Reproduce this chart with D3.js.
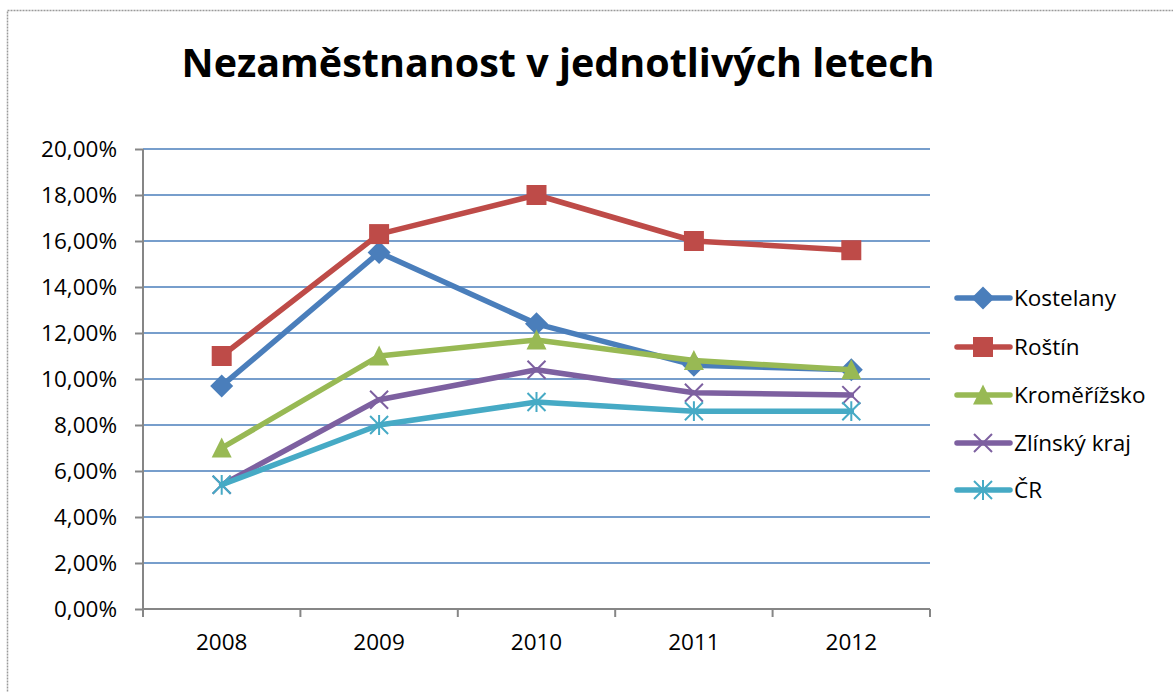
<!DOCTYPE html>
<html>
<head>
<meta charset="utf-8">
<script src="https://cdn.jsdelivr.net/npm/d3@7"></script>
<style>
  html, body { margin: 0; padding: 0; background: #fff; }
  svg { display: block; }
  text { font-family: "Open Sans", "Noto Sans", sans-serif; fill: #000; }
</style>
</head>
<body>
<svg id="chart" width="1173" height="692"></svg>
<script>
const title = "Nezaměstnanost v jednotlivých letech";
const years = ["2008", "2009", "2010", "2011", "2012"];
const seriesNames = ["Kostelany", "Roštín", "Kroměřížsko", "Zlínský kraj", "ČR"];
const kostelany = [9.7, 15.5, 12.4, 10.6, 10.4];
const rostin = [11.0, 16.3, 18.0, 16.0, 15.6];
const kromerizsko = [7.0, 11.0, 11.7, 10.8, 10.4];
const zlinskyKraj = [5.4, 9.1, 10.4, 9.4, 9.3];
const cr = [5.4, 8.0, 9.0, 8.6, 8.6];
const yTicks = [0, 2, 4, 6, 8, 10, 12, 14, 16, 18, 20];
const colors = ["#4A7EBB", "#BE4B48", "#98B954", "#7D60A0", "#46AAC5"];
const markers = ["diamond", "square", "triangle", "x", "star"];

(function () {
const series = seriesNames.map((n, i) => ({
  name: n, values: [kostelany, rostin, kromerizsko, zlinskyKraj, cr][i],
  color: colors[i], marker: markers[i]
}));

const svg = d3.select("#chart");
const pL = 143, pR = 930, pT = 149, pB = 609;
const fs = 22.5;

// outer frame
svg.append("rect").attr("x", 7.5).attr("y", 10.5).attr("width", 1200).attr("height", 720)
  .attr("fill", "none").attr("stroke", "#9a9a9a").attr("stroke-width", 1.5)
  .attr("stroke-dasharray", "2,1");

const x = d3.scaleBand().domain(years).range([pL, pR]);
const y = d3.scaleLinear().domain([0, 20]).range([pB, pT]);

// gridlines
svg.append("g").selectAll("line").data(yTicks.filter(d => d > 0)).join("line")
  .attr("x1", pL).attr("x2", pR)
  .attr("y1", d => y(d)).attr("y2", d => y(d))
  .attr("stroke", "#4A7EBB").attr("stroke-width", 1.5);

// y axis
const yAxis = d3.axisLeft(y).tickValues(yTicks).tickSize(8).tickPadding(18)
  .tickFormat(d => d3.format(".2f")(d).replace(".", ",") + "%");
const gy = svg.append("g").attr("transform", `translate(${pL},0)`).call(yAxis);
gy.select(".domain").attr("stroke", "#868686").attr("stroke-width", 2).attr("d", `M0,${pT}V${pB}`);
gy.selectAll(".tick line").attr("stroke", "#868686").attr("stroke-width", 2);
gy.selectAll(".tick text").attr("font-size", fs).attr("font-family", "Open Sans").attr("fill", "#000");

// x axis
const xAxis = d3.axisBottom(x).tickSize(0).tickPadding(0);
const gx = svg.append("g").attr("transform", `translate(0,${pB})`).call(xAxis);
gx.select(".domain").attr("stroke", "#868686").attr("stroke-width", 2).attr("d", `M${pL},0H${pR}`);
gx.selectAll(".tick text").attr("font-size", fs).attr("font-family", "Open Sans").attr("fill", "#000").attr("dy", 0).attr("y", 41);
// category boundary ticks
const bounds = years.map(d => x(d)).concat([pR]);
svg.append("g").selectAll("line").data(bounds).join("line")
  .attr("x1", d => d).attr("x2", d => d).attr("y1", pB).attr("y2", pB + 8)
  .attr("stroke", "#868686").attr("stroke-width", 2);

function markerPath(type, s) {
  const h = s / 2;
  switch (type) {
    case "diamond": return `M0,${-h*1.15}L${h*1.15},0L0,${h*1.15}L${-h*1.15},0Z`;
    case "square": return `M${-h},${-h}H${h}V${h}H${-h}Z`;
    case "triangle": return `M0,${-h*1.05}L${h},${h*0.95}L${-h},${h*0.95}Z`;
    case "x": return `M${-h},${-h}L${h},${h}M${h},${-h}L${-h},${h}`;
    case "star": return `M${-h},${-h}L${h},${h}M${h},${-h}L${-h},${h}M0,${-h*1.1}V${h*1.1}`;
  }
}
function drawMarker(g, type, color) {
  const filled = type === "diamond" || type === "square" || type === "triangle";
  g.append("path").attr("d", markerPath(type, filled ? 20 : 18))
    .attr("fill", filled ? color : "none")
    .attr("stroke", filled ? "none" : color)
    .attr("stroke-width", 2);
}

const xc = d => x(d) + x.bandwidth() / 2;
const line = d3.line().x((d, i) => xc(years[i])).y(d => y(d));

series.forEach(s => {
  const g = svg.append("g");
  g.append("path").datum(s.values).attr("d", line)
    .attr("fill", "none").attr("stroke", s.color).attr("stroke-width", 5.5)
    .attr("stroke-linejoin", "round").attr("stroke-linecap", "round");
  s.values.forEach((v, i) => {
    const mg = g.append("g").attr("transform", `translate(${xc(years[i])},${y(v)})`);
    drawMarker(mg, s.marker, s.color);
  });
});

// legend
const legendY = [298, 347, 395, 443, 490];
series.forEach((s, i) => {
  const g = svg.append("g").attr("transform", `translate(0,${legendY[i]})`);
  g.append("line").attr("x1", 957).attr("x2", 1010).attr("y1", 0).attr("y2", 0)
    .attr("stroke", s.color).attr("stroke-width", 5.5).attr("stroke-linecap", "round");
  const mg = g.append("g").attr("transform", `translate(983,0)`);
  drawMarker(mg, s.marker, s.color);
  g.append("text").attr("x", 1014).attr("y", 0).attr("dy", "0.35em")
    .attr("font-size", fs).text(s.name);
});

// title
const t = svg.append("text").attr("x", 558).attr("y", 77).attr("text-anchor", "middle")
  .attr("font-weight", "bold").attr("font-size", 40).text(title);
const w = t.node().getComputedTextLength();
t.attr("font-size", 40 * 753 / w);
})();
</script>
</body>
</html>
